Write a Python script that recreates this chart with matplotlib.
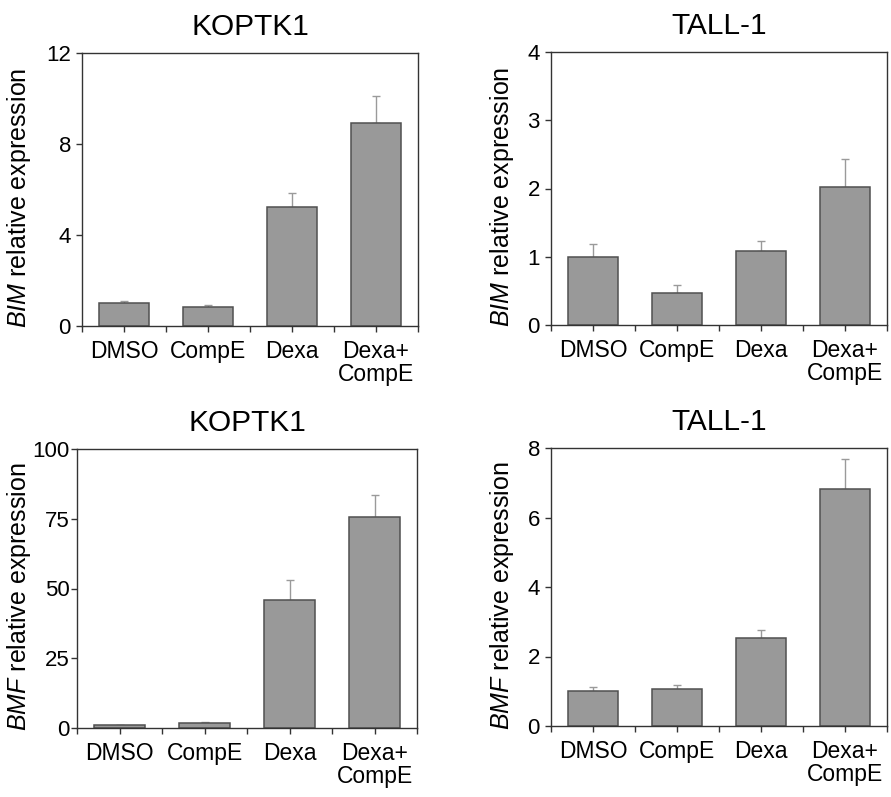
import matplotlib
matplotlib.use("Agg")
import matplotlib.pyplot as plt
import numpy as np

plt.rcParams['font.family'] = ['Liberation Sans', 'DejaVu Sans']
plt.rcParams['mathtext.fontset'] = 'custom'
plt.rcParams['mathtext.rm'] = 'Liberation Sans'
plt.rcParams['mathtext.it'] = 'Liberation Sans:italic'

categories = ["DMSO", "CompE", "Dexa", "Dexa+\nCompE"]

bim_koptk1 = [1.02, 0.85, 5.23, 8.93]
bim_koptk1_err = [0.09, 0.06, 0.60, 1.19]
bim_tall1 = [1.00, 0.47, 1.08, 2.02]
bim_tall1_err = [0.19, 0.11, 0.15, 0.41]
bmf_koptk1 = [1.0, 1.9, 46.0, 75.7]
bmf_koptk1_err = [0.2, 0.4, 6.9, 7.8]
bmf_tall1 = [1.00, 1.07, 2.54, 6.83]
bmf_tall1_err = [0.12, 0.10, 0.21, 0.85]

# title, gene, values, errors, y ticks, axes box (px: left, right, top, bottom), ylabel right edge px, ytick pad
panels = [
    ("KOPTK1", "BIM", bim_koptk1, bim_koptk1_err, [0, 4, 8, 12], (82, 418, 53, 326), 33, 4),
    ("TALL-1", "BIM", bim_tall1, bim_tall1_err, [0, 1, 2, 3, 4], (551, 887, 52, 325), 516, 4),
    ("KOPTK1", "BMF", bmf_koptk1, bmf_koptk1_err, [0, 25, 50, 75, 100], (77, 417, 449, 728), 33, 1.5),
    ("TALL-1", "BMF", bmf_tall1, bmf_tall1_err, [0, 2, 4, 6, 8], (551, 887, 448, 726), 516, 4),
]

W, H = 891, 797
fig = plt.figure(figsize=(W / 100, H / 100), dpi=100)

spine_c = '#333333'
edge = '#505050'
for title, gene, vals, errs, yticks, (l, r, t, b), lab_x, ypad in panels:
    ax = fig.add_axes([l / W, 1 - b / H, (r - l) / W, (b - t) / H])
    x = np.arange(len(categories))
    ax.errorbar(x, vals, yerr=[np.zeros(len(errs)), errs], fmt='none',
                ecolor='#9a9a9a', elinewidth=1.0, capsize=3, capthick=1.0, zorder=1)
    ax.bar(x, vals, width=0.6, color='#999999', edgecolor=edge, linewidth=1.1, zorder=2)
    ax.set_xlim(-0.5, 3.5)
    ax.set_ylim(yticks[0], yticks[-1])
    ax.set_yticks(yticks)
    ax.set_xticks(x)
    ax.set_xticklabels(categories, fontsize=16.5, linespacing=1.0)
    ax.set_xticks(np.arange(-0.5, 4.0, 1.0), minor=True)
    ax.tick_params(axis='x', which='both', direction='out', length=4, width=1.0,
                   color=spine_c, pad=6)
    ax.tick_params(axis='y', direction='out', length=4, width=1.0, color=spine_c,
                   labelsize=16, pad=ypad)
    for s in ax.spines.values():
        s.set_color(spine_c)
        s.set_linewidth(1.0)
    ax.set_ylabel(r"$\mathit{" + gene + r"}$ relative expression", fontsize=18)
    ax.yaxis.set_label_coords((lab_x - l) / (r - l), 0.47)
    ax.set_title(title, fontsize=21.5, pad=13)

fig.savefig("out.png", dpi=100)
